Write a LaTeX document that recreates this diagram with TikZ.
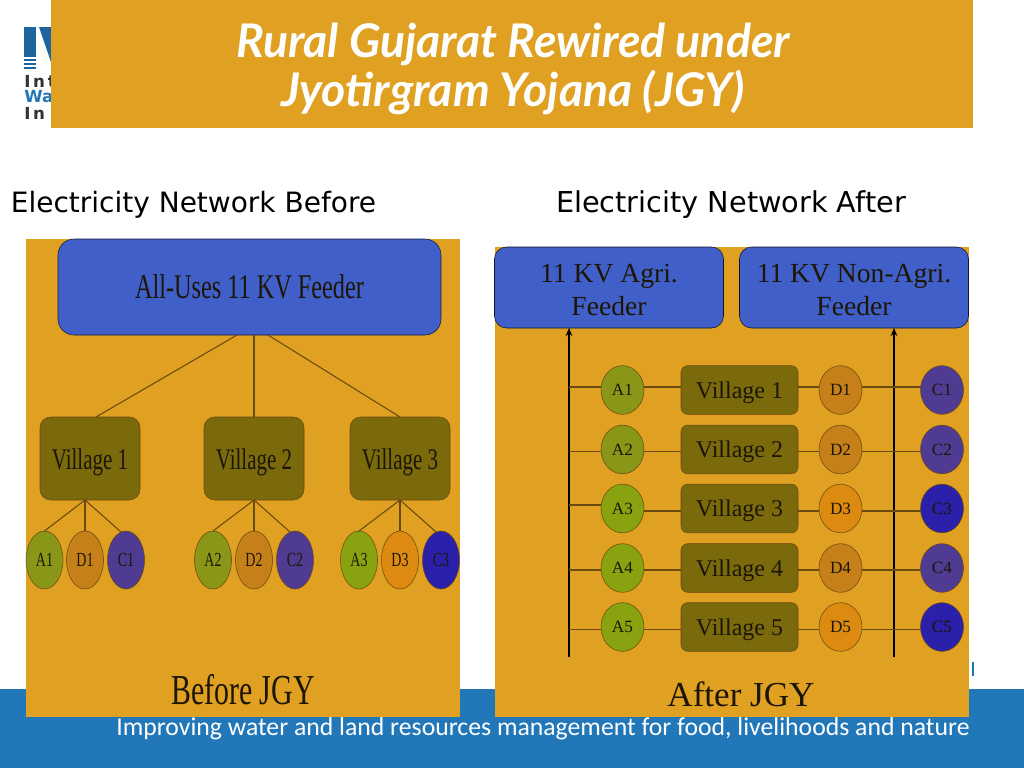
\documentclass[tikz,border=0pt]{standalone}
\usepackage{fontspec}
\usepackage{xcolor}
\usetikzlibrary{shapes.geometric}
\usetikzlibrary{arrows.meta}

\newfontfamily\titlefont{Lato}
\newfontfamily\plainfont{DejaVu Sans}
\newfontfamily\tagfont{Carlito}
\newfontfamily\wideserif{Liberation Serif}
\newfontfamily\tallserif[FakeStretch=0.7]{Liberation Serif}

\newcommand{\lowerline}{\rule{0pt}{17pt}}

\definecolor{panelcol}{HTML}{E0A021}
\definecolor{stripcol}{HTML}{2277B8}
\definecolor{feedercol}{HTML}{405FC8}
\definecolor{villagecol}{HTML}{7A6A0C}
\definecolor{wirecol}{HTML}{6B4A10}
\definecolor{inkcol}{HTML}{1C1606}
\definecolor{adark}{HTML}{8A9618}
\definecolor{alight}{HTML}{88A30F}
\definecolor{ddark}{HTML}{C6801A}
\definecolor{dlight}{HTML}{DC8B10}
\definecolor{cdark}{HTML}{4F3B92}
\definecolor{clight}{HTML}{2B20AA}

\tikzset{
    boxbase/.style={rectangle, rounded corners=9pt, inner sep=0pt, outer sep=0pt, align=center, text=inkcol},
    feederleft/.style={boxbase, rounded corners=12pt, draw=black!70!feedercol, fill=feedercol, minimum width=287.25pt, minimum height=72pt, font=\tallserif\fontsize{26}{30}\selectfont},
    feederright/.style={boxbase, draw=black!80!feedercol, fill=feedercol, minimum width=171.75pt, minimum height=60.75pt, font=\wideserif\fontsize{20.7}{25}\selectfont},
    villageleft/.style={boxbase, rounded corners=8pt, draw=wirecol, fill=villagecol, minimum width=75pt, minimum height=62.25pt, text height=18.3pt, text depth=1.9pt, font=\tallserif\fontsize{22.5}{26}\selectfont},
    villageright/.style={boxbase, rounded corners=5pt, draw=wirecol, fill=villagecol, minimum width=87.75pt, minimum height=36.5pt, text height=14pt, text depth=2pt, font=\wideserif\fontsize{18}{22}\selectfont},
    dotleft/.style={ellipse, draw=wirecol, inner sep=0pt, outer sep=0pt, minimum width=27.75pt, minimum height=43.5pt, text=inkcol, font=\tallserif\fontsize{15}{18}\selectfont},
    dotright/.style={ellipse, draw=wirecol, inner sep=0pt, outer sep=0pt, minimum width=32.25pt, minimum height=36.5pt, text=inkcol, font=\wideserif\fontsize{12.9}{15}\selectfont},
    wire/.style={draw=wirecol, line width=0.8pt},
    spine/.style={draw=black, line width=1.1pt, -{Stealth[length=6pt,width=5pt]}},
    heading/.style={text=black, font=\plainfont\fontsize{21}{25}\selectfont},
    headline/.style={text=white, font=\titlefont\bfseries\itshape\fontsize{34.8}{40}\selectfont},
    logotext/.style={anchor=west, inner sep=0pt, font=\plainfont\bfseries\fontsize{12.5}{14}\selectfont}
}

\begin{document}
\begin{tikzpicture}[x=0.75pt,y=-0.75pt]
    \useasboundingbox (0,0) rectangle (1024,768);

    \fill[color=stripcol] (0,689) rectangle (1024,768);
    \fill[color=stripcol] (971.5,662) rectangle (974,676);
    \node[text=white, font=\tagfont\fontsize{19.3}{22}\selectfont] (tagline) at (543,729) {Improving water and land resources management for food, livelihoods and nature};

    \fill[color=stripcol!85!black] (24,27) rectangle (36,57);
    \fill[color=stripcol!85!black] (24,59) rectangle (36,61);
    \fill[color=stripcol!85!black] (24,63) rectangle (36,65);
    \fill[color=stripcol!85!black] (24,67) rectangle (36,69);
    \fill[color=stripcol!85!black] (39,27) -- (51,27) -- (51,62) -- cycle;
    \node[logotext, text=black!80] (logoa) at (24,81) {I\,n\,t};
    \node[logotext, text=stripcol] (logob) at (24,97) {Wat};
    \node[logotext, text=black!80] (logoc) at (24,113) {I\,n};

    \fill[color=panelcol] (51,0) rectangle (973,128);
    \node[headline] (titlea) at (513,44) {Rural Gujarat Rewired under};
    \node[headline] (titleb) at (513,92) {Jyotirgram Yojana (JGY)};

    \node[heading] (headbefore) at (193.5,205) {Electricity Network Before};
    \node[heading, font=\plainfont\fontsize{21.55}{25}\selectfont] (headafter) at (731,205) {Electricity Network After};

    \fill[color=panelcol] (26,239) rectangle (460,717);
    \fill[color=panelcol] (495,247) rectangle (969,717);

    \node[feederleft] (feeder) at (249.5,287) {All-Uses 11 KV Feeder};
    \node[villageleft] (villa) at (90,458.5) {Village 1};
    \node[villageleft] (villb) at (254,458.5) {Village 2};
    \node[villageleft] (villc) at (400,458.5) {Village 3};

    \node[dotleft, fill=adark] (la1) at (44.5,560) {A1};
    \node[dotleft, fill=ddark] (ld1) at (85,560) {D1};
    \node[dotleft, fill=cdark] (lc1) at (126,560) {C1};
    \node[dotleft, fill=adark] (la2) at (213,560) {A2};
    \node[dotleft, fill=ddark] (ld2) at (254,560) {D2};
    \node[dotleft, fill=cdark] (lc2) at (295,560) {C2};
    \node[dotleft, fill=alight] (la3) at (359,560) {A3};
    \node[dotleft, fill=dlight] (ld3) at (400,560) {D3};
    \node[dotleft, fill=clight] (lc3) at (441,560) {C3};

    \coordinate (feedera) at (237,335);
    \coordinate (feederb) at (254,335);
    \coordinate (feederc) at (268,335);
    \coordinate (villatop) at (96,417);
    \coordinate (villabot) at (85,500);
    \draw[wire] (feedera) -- (villatop);
    \draw[wire] (feederb) -- (villb.north);
    \draw[wire] (feederc) -- (villc.north);
    \draw[wire] (villabot) -- (la1.north);
    \draw[wire] (villabot) -- (ld1.north);
    \draw[wire] (villabot) -- (lc1.100);
    \draw[wire] (villb.south) -- (la2.north);
    \draw[wire] (villb.south) -- (ld2.north);
    \draw[wire] (villb.south) -- (lc2.100);
    \draw[wire] (villc.south) -- (la3.north);
    \draw[wire] (villc.south) -- (ld3.north);
    \draw[wire] (villc.south) -- (lc3.100);

    \node[font=\tallserif\fontsize{32}{36}\selectfont, text=inkcol] (before) at (243,690) {Before JGY};
    \node[font=\wideserif\fontsize{26.3}{30}\selectfont, text=inkcol] (after) at (741,694) {After JGY};

    \node[feederright] (agri) at (609,287.5) {\lowerline 11 KV Agri.\\Feeder};
    \node[feederright] (nonagri) at (854,287.5) {\lowerline 11 KV Non-Agri.\\Feeder};

    \node[dotright, fill=adark] (ra1) at (622.5,390) {A1};
    \node[villageright] (rv1) at (739.5,390) {Village 1};
    \node[dotright, fill=ddark] (rd1) at (840.5,390) {D1};
    \node[dotright, fill=cdark] (rc1) at (942,390) {C1};
    \node[dotright, fill=adark] (ra2) at (622.5,449.5) {A2};
    \node[villageright] (rv2) at (739.5,449.5) {Village 2};
    \node[dotright, fill=ddark] (rd2) at (840.5,449.5) {D2};
    \node[dotright, fill=cdark] (rc2) at (942,449.5) {C2};
    \node[dotright, fill=alight] (ra3) at (622.5,508.5) {A3};
    \node[villageright] (rv3) at (739.5,508.5) {Village 3};
    \node[dotright, fill=dlight] (rd3) at (840.5,508.5) {D3};
    \node[dotright, fill=clight] (rc3) at (942,508.5) {C3};
    \node[dotright, fill=alight] (ra4) at (622.5,568) {A4};
    \node[villageright] (rv4) at (739.5,568) {Village 4};
    \node[dotright, fill=ddark] (rd4) at (840.5,568) {D4};
    \node[dotright, fill=cdark] (rc4) at (942,568) {C4};
    \node[dotright, fill=alight] (ra5) at (622.5,627) {A5};
    \node[villageright] (rv5) at (739.5,627) {Village 5};
    \node[dotright, fill=dlight] (rd5) at (840.5,627) {D5};
    \node[dotright, fill=clight] (rc5) at (942,627) {C5};

    \coordinate (spinea) at (569,657);
    \coordinate (spineb) at (894,657);
    \draw[spine] (spinea) -- (spinea |- agri.south);
    \draw[spine] (spineb) -- (spineb |- nonagri.south);

    \coordinate (row1) at (569,387);
    \coordinate (row2) at (569,451.5);
    \coordinate (row3) at (569,505);
    \coordinate (row3b) at (569,511);
    \coordinate (row4) at (569,570);
    \coordinate (row5) at (569,629.5);

    \draw[wire] (row1) -- (row1 -| ra1.west);
    \draw[wire] (row1 -| ra1.east) -- (row1 -| rv1.west);
    \draw[wire] (row1 -| rv1.east) -- (row1 -| rd1.west);
    \draw[wire] (row1 -| rd1.east) -- (row1 -| rc1.west);
    \draw[wire] (row2) -- (row2 -| ra2.west);
    \draw[wire] (row2 -| ra2.east) -- (row2 -| rv2.west);
    \draw[wire] (row2 -| rv2.east) -- (row2 -| rd2.west);
    \draw[wire] (row2 -| rd2.east) -- (row2 -| rc2.west);
    \draw[wire] (row3) -- (row3 -| ra3.west);
    \draw[wire] (row3b -| ra3.east) -- (row3b -| rv3.west);
    \draw[wire] (row3b -| rv3.east) -- (row3b -| rd3.west);
    \draw[wire] (row3b -| rd3.east) -- (row3b -| rc3.west);
    \draw[wire] (row4) -- (row4 -| ra4.west);
    \draw[wire] (row4 -| ra4.east) -- (row4 -| rv4.west);
    \draw[wire] (row4 -| rv4.east) -- (row4 -| rd4.west);
    \draw[wire] (row4 -| rd4.east) -- (row4 -| rc4.west);
    \draw[wire] (row5) -- (row5 -| ra5.west);
    \draw[wire] (row5 -| ra5.east) -- (row5 -| rv5.west);
    \draw[wire] (row5 -| rv5.east) -- (row5 -| rd5.west);
    \draw[wire] (row5 -| rd5.east) -- (row5 -| rc5.west);
\end{tikzpicture}
\end{document}
